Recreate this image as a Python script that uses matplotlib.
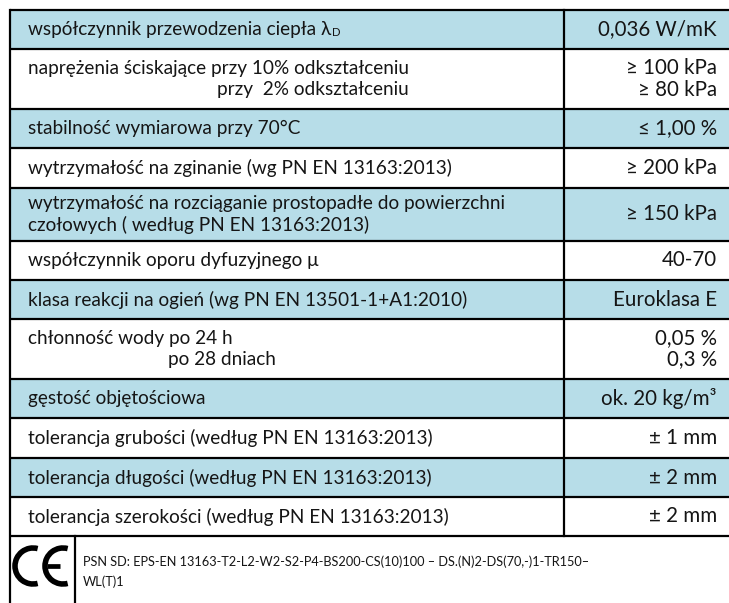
import matplotlib
matplotlib.use("Agg")
import matplotlib.pyplot as plt
from matplotlib.patches import Rectangle, Arc

plt.rcParams['font.family'] = ['Lato', 'DejaVu Sans']

# ---- data ----
labels = [
    ["współczynnik przewodzenia ciepła λ"],
    ["naprężenia ściskające przy 10% odkształceniu", "przy  2% odkształceniu"],
    ["stabilność wymiarowa przy 70°C"],
    ["wytrzymałość na zginanie (wg PN EN 13163:2013)"],
    ["wytrzymałość na rozciąganie prostopadłe do powierzchni", "czołowych ( według PN EN 13163:2013)"],
    ["współczynnik oporu dyfuzyjnego μ"],
    ["klasa reakcji na ogień (wg PN EN 13501-1+A1:2010)"],
    ["chłonność wody po 24 h", "po 28 dniach"],
    ["gęstość objętościowa"],
    ["tolerancja grubości (według PN EN 13163:2013)"],
    ["tolerancja długości (według PN EN 13163:2013)"],
    ["tolerancja szerokości (według PN EN 13163:2013)"],
]
values = [
    ["0,036 W/mK"],
    ["≥ 100 kPa", "≥ 80 kPa"],
    ["≤ 1,00 %"],
    ["≥ 200 kPa"],
    ["≥ 150 kPa"],
    ["40-70"],
    ["Euroklasa E"],
    ["0,05 %", "0,3 %"],
    ["ok. 20 kg/m³"],
    ["± 1 mm"],
    ["± 2 mm"],
    ["± 2 mm"],
]
shaded = [True, False, True, False, True, False, True, False, True, False, True, False]
footer_lines = ["PSN SD: EPS-EN 13163-T2-L2-W2-S2-P4-BS200-CS(10)100 – DS.(N)2-DS(70,-)1-TR150–",
                "WL(T)1"]

# ---- layout ----
W, H = 729, 603
row_h = [39, 60, 39, 40, 53, 39, 39, 60, 39, 40, 39, 39]
top = 10
x_left, x_div, x_right = 10, 564, 729
x_lab, x_val = 28, 717
fs = 13.7
fsv = 14.8
blue = "#B7DDE8"
lw = 1.6
tc = '#151515'

fig = plt.figure(figsize=(W / 100, H / 100), dpi=100)
ax = fig.add_axes([0, 0, 1, 1])
ax.set_xlim(0, W)
ax.set_ylim(H, 0)
ax.axis('off')

y = top
bounds = [y]
for h in row_h:
    y += h
    bounds.append(y)


def right_x(t):
    fig.canvas.draw()
    bb = t.get_window_extent()
    return ax.transData.inverted().transform((bb.x1, 0))[0]


for i, (lab, val) in enumerate(zip(labels, values)):
    y0, y1 = bounds[i], bounds[i + 1]
    if shaded[i]:
        ax.add_patch(Rectangle((x_left, y0), x_right - x_left, y1 - y0,
                               facecolor=blue, edgecolor='none', zorder=0))
    mid = (y0 + y1) / 2
    ys = [mid] if len(lab) == 1 else [mid - 10.5, mid + 10.5]
    t0 = ax.text(x_lab, ys[0], lab[0], fontsize=fs, va='center', ha='left', color=tc)
    if len(lab) == 2:
        if i == 1:
            ax.text(right_x(t0), ys[1], lab[1], fontsize=fs, va='center', ha='right', color=tc)
        elif i == 7:
            tmp = ax.text(x_lab, ys[0], "chłonność wody", fontsize=fs, va='center', ha='left', alpha=0)
            ax.text(right_x(tmp) + 4, ys[1], lab[1], fontsize=fs, va='center', ha='left', color=tc)
        else:
            ax.text(x_lab, ys[1], lab[1], fontsize=fs, va='center', ha='left', color=tc)
    if i == 0:
        ax.text(right_x(t0) + 0.5, ys[0] + 3, "D", fontsize=fs * 0.6, va='center', ha='left', color=tc)
    vys = [mid] if len(val) == 1 else [mid - 10.5, mid + 10.5]
    for v, yy in zip(val, vys):
        ax.text(x_val, yy, v, fontsize=fsv, va='center', ha='right', color=tc)

# grid lines
for b in bounds:
    ax.plot([x_left, x_right], [b, b], color='black', lw=lw, solid_capstyle='butt')
ax.plot([x_left, x_left], [bounds[0], H], color='black', lw=lw)
ax.plot([x_div, x_div], [bounds[0], bounds[-1]], color='black', lw=lw)

# footer
fx = 75
ax.plot([fx, fx], [bounds[-1], H], color='black', lw=lw)
cy, r = 566, 18
ax.add_patch(Arc((33, cy), 2 * r, 2 * r, theta1=75, theta2=285, lw=4.0, color='black'))
ax.add_patch(Arc((63, cy), 2 * r, 2 * r, theta1=75, theta2=285, lw=4.0, color='black'))
ax.plot([63 - r + 2, 63 - 3], [cy, cy], color='black', lw=3.4, solid_capstyle='butt')
ax.text(fx + 8, 562, footer_lines[0], fontsize=9.2, va='center', ha='left', color=tc)
ax.text(fx + 8, 582, footer_lines[1], fontsize=9.2, va='center', ha='left', color=tc)

fig.savefig("out.png", dpi=100)
